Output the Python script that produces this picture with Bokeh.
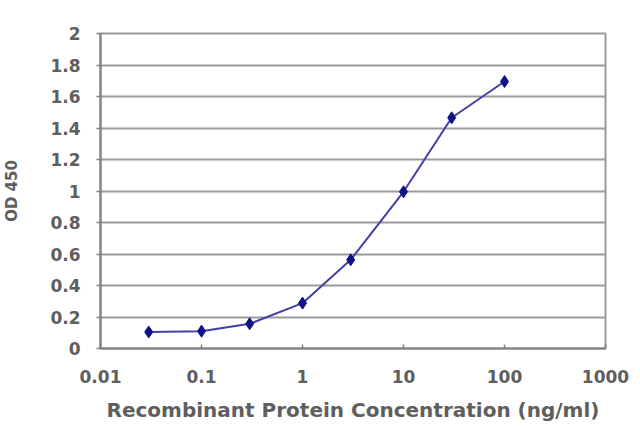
from bokeh.plotting import figure
from bokeh.models import Range1d, FixedTicker
from bokeh.embed import file_html
from bokeh.resources import INLINE

# Data
conc = [0.03, 0.1, 0.3, 1, 3, 10, 30, 100]
od450 = [0.105, 0.11, 0.157, 0.288, 0.563, 0.995, 1.465, 1.695]

x_ticks = [0.01, 0.1, 1, 10, 100, 1000]
x_tick_labels = ["0.01", "0.1", "1", "10", "100", "1000"]
y_ticks = [0, 0.2, 0.4, 0.6, 0.8, 1.0, 1.2, 1.4, 1.6, 1.8, 2.0]
y_tick_labels = ["0", "0.2", "0.4", "0.6", "0.8", "1", "1.2", "1.4", "1.6", "1.8", "2"]

FONT = "DejaVu Sans"
TXT = "#5e5e5e"
GRID = "#9a9a9a"

p = figure(width=640, height=427, x_axis_type="log",
           x_range=Range1d(0.01, 1000), y_range=Range1d(0, 2),
           output_backend="svg", toolbar_location=None,
           min_border_left=98, min_border_right=35,
           min_border_top=33, min_border_bottom=79)

p.background_fill_color = "white"
p.border_fill_color = "white"
p.outline_line_color = GRID
p.outline_line_width = 2

p.xgrid.visible = False
p.ygrid.grid_line_color = GRID
p.ygrid.grid_line_width = 2
p.ygrid.ticker = FixedTicker(ticks=y_ticks)

p.xaxis.ticker = FixedTicker(ticks=x_ticks)
p.xaxis.major_label_overrides = {t: l for t, l in zip(x_ticks, x_tick_labels)}
p.yaxis.ticker = FixedTicker(ticks=y_ticks)
p.yaxis.major_label_overrides = {t: l for t, l in zip(y_ticks, y_tick_labels)}

for ax in (p.xaxis, p.yaxis):
    ax.axis_line_color = "#808080"
    ax.axis_line_width = 2
    ax.major_tick_line_color = "#808080"
    ax.major_tick_line_width = 1.5
    ax.minor_tick_line_color = None
    ax.major_label_text_font = FONT
    ax.major_label_text_font_style = "bold"
    ax.major_label_text_color = TXT
    ax.major_label_text_font_size = "17px"
    ax.axis_label_text_font = FONT
    ax.axis_label_text_font_style = "bold"
    ax.axis_label_text_color = TXT

p.xaxis.major_tick_in = 4
p.xaxis.major_tick_out = 0
p.xaxis.major_label_standoff = 21
p.xaxis.axis_label = "Recombinant Protein Concentration (ng/ml)"
p.xaxis.axis_label_text_font_size = "20px"
p.xaxis.axis_label_standoff = 12

p.yaxis.major_tick_in = 0
p.yaxis.major_tick_out = 4
p.yaxis.major_label_standoff = 16
p.yaxis.axis_label = "OD 450"
p.yaxis.axis_label_text_font_size = "15px"
p.yaxis.axis_label_standoff = 26

p.line(conc, od450, line_color="#4040a8", line_width=2)
p.scatter(conc, od450, marker="diamond", size=12, fill_color="#10108a",
          line_color="#10108a")

open("out.html", "w").write(file_html(p, INLINE))
